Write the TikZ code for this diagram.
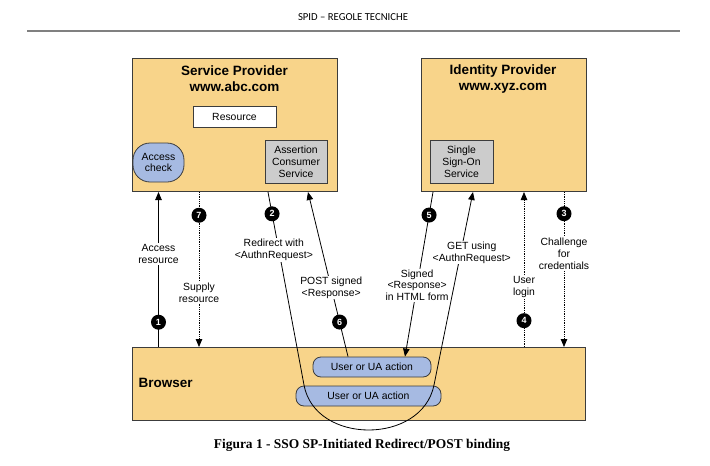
\documentclass[tikz,border=0pt]{standalone}
\usepackage{fontspec}
\setmainfont{Liberation Sans}
\newfontfamily\hdrfont{Carlito}
\newfontfamily\capfont{Liberation Serif}
\usetikzlibrary{arrows.meta}
\usetikzlibrary{positioning}

\definecolor{boxfill}{RGB}{248,212,138}
\definecolor{actfill}{RGB}{166,186,226}
\definecolor{svcfill}{RGB}{204,204,204}
\definecolor{edgegray}{RGB}{60,60,60}

\tikzset{
  entity/.style={draw=edgegray, fill=boxfill, line width=1pt, anchor=north west},
  title/.style={align=center, font=\bfseries\fontsize{13.5}{16}\selectfont},
  txt/.style={align=center, font=\fontsize{10.4}{11.8}\selectfont, inner sep=1pt},
  svc/.style={txt, draw=edgegray, fill=svcfill, line width=0.8pt},
  act/.style={txt, draw=edgegray, fill=actfill, line width=0.8pt, rounded corners=#1},
  lbl/.style={txt, fill=white},
  badge/.style={circle, fill=black, text=white, inner sep=0pt, minimum size=15pt,
    font=\bfseries\fontsize{9}{9}\selectfont},
  flow/.style={line width=0.8pt, -{Triangle[length=8pt,width=6.5pt]}},
  dflow/.style={flow, densely dotted}
}

\begin{document}
\begin{tikzpicture}[x=1pt,y=-1pt]
  \useasboundingbox (0,0) rectangle (710,466);
  % page header
  \node[font=\hdrfont\fontsize{10.7}{12}\selectfont] (hdr) at (353,17) {SPID – REGOLE TECNICHE};
  \draw[gray, line width=1.1pt] (27,31) -- (680,31);

  % providers
  \node[entity, minimum width=205pt, minimum height=133pt] (sp) at (132,58) {};
  \node[title] (sptitle) at (234.5,79) {Service Provider\\www.abc.com};
  \node[txt, draw=edgegray, fill=white, minimum width=83pt, minimum height=21pt] (res) at (234.5,116.5) {Resource};
  \node[act=17pt, minimum width=51pt, minimum height=39pt] (acc) at (158.5,162.5) {Access\\check};
  \node[svc, minimum width=62pt, minimum height=43pt] (acs) at (296,161.5) {Assertion\\Consumer\\Service};

  \node[entity, minimum width=165pt, minimum height=133pt] (idp) at (421,58) {};
  \node[title] (idptitle) at (503,79) {Identity Provider\\www.xyz.com};
  \node[svc, minimum width=63pt, minimum height=43pt] (sso) at (461.5,161.5) {Single\\Sign-On\\Service};

  % browser
  \node[entity, minimum width=453pt, minimum height=73pt] (br) at (132,347) {};
  \node[title, anchor=west] (brtitle) at (135,383) {Browser};
  \node[act=8pt, minimum width=118pt, minimum height=20pt] (ua1) at (372,367) {User or UA action};
  \node[act=8pt, minimum width=145pt, minimum height=20pt] (ua2) at (368.5,396) {User or UA action};

  % message flows
  \draw[flow] (br.north -| acc.south) -- node[lbl, pos=0.6] (l1) {Access\\resource}
    node[badge, pos=0.16] (b1) {1} (sp.south -| acc.south);
  \draw[dflow] (sp.south -| 199,0) -- node[lbl, pos=0.65] (l7) {Supply\\resource}
    node[badge, pos=0.15] (b7) {7} (br.north -| 199,0);
  \draw[flow] (sp.south -| 268,0) -- node[lbl, pos=0.3, xshift=-5pt] (l2) {Redirect with\\<AuthnRequest>}
    node[badge, pos=0.113] (b2) {2} (304,385)
    .. controls (315,445) and (422,445) .. (434,385)
    -- node[lbl, pos=0.686, xshift=11pt] (lg) {GET using\\<AuthnRequest>} (idp.south -| 473,0);
  \draw[dflow] (idp.south -| 564,0) -- node[lbl, pos=0.4] (l3) {Challenge\\for\\credentials}
    node[badge, pos=0.14] (b3) {3} (br.north -| 564,0);
  \draw[dflow] (br.north -| 524,0) -- node[lbl, pos=0.385] (l4) {User\\login}
    node[badge, pos=0.17] (b4) {4} (idp.south -| 524,0);
  \draw[flow] (idp.south -| 433,0) -- node[lbl, pos=0.566] (l5) {Signed\\<Response>\\in HTML form}
    node[badge, pos=0.14] (b5) {5} (ua1.north -| 405,0);
  \draw[flow] (ua1.north -| 348,0) -- node[lbl, pos=0.42] (l6) {POST signed\\<Response>}
    node[badge, pos=0.21] (b6) {6} (sp.south -| 308,0);

  % caption
  \node[font=\capfont\bfseries\fontsize{13.4}{15}\selectfont] (cap) at (362,445)
    {Figura 1 - SSO SP-Initiated Redirect/POST binding};
\end{tikzpicture}
\end{document}
